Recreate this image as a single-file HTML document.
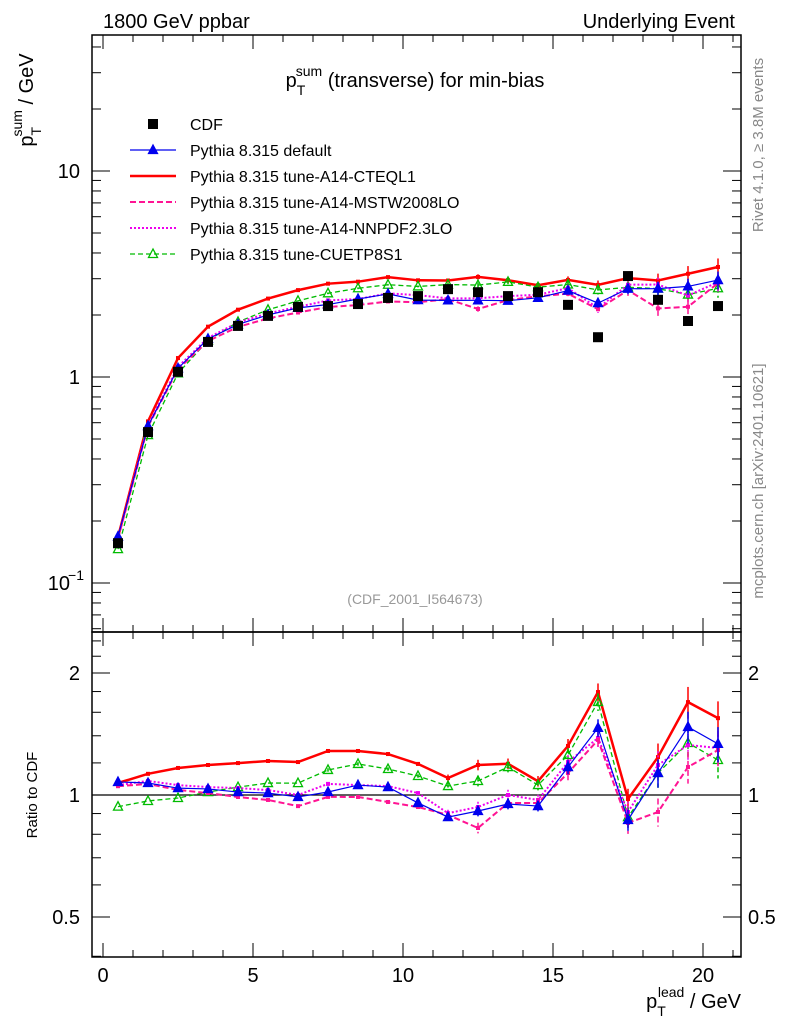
<!DOCTYPE html>
<html><head><meta charset="utf-8"><style>
body{margin:0;background:#fff;}
svg{display:block;font-family:"Liberation Sans",sans-serif;}
</style></head><body>
<svg id="c" width="786" height="1024"></svg>
<script>
const xs=[0.5,1.5,2.5,3.5,4.5,5.5,6.5,7.5,8.5,9.5,10.5,11.5,12.5,13.5,14.5,15.5,16.5,17.5,18.5,19.5,20.5];
const cdf=[0.156,0.54,1.06,1.48,1.77,1.98,2.19,2.21,2.26,2.42,2.47,2.67,2.58,2.47,2.58,2.24,1.56,3.09,2.37,1.87,2.21];
const pyDefault=[.168,.578,1.102,1.532,1.800,2.002,2.166,2.248,2.391,2.531,2.361,2.355,2.356,2.347,2.423,2.625,2.284,2.682,2.685,2.753,2.955];
const pyCTEQ=[0.167,0.609,1.236,1.755,2.122,2.402,2.641,2.838,2.902,3.054,2.947,2.94,3.06,2.95,2.79,2.96,2.80,3.02,2.94,3.17,3.42];
const pyMSTW=[.164,.575,1.091,1.496,1.750,1.925,2.056,2.186,2.235,2.326,2.307,2.384,2.139,2.361,2.466,2.538,2.133,2.636,2.152,2.192,2.853];
const pyNNPDF=[.165,.585,1.121,1.548,1.841,2.037,2.19,2.354,2.391,2.546,2.497,2.408,2.410,2.47,2.508,2.701,2.157,2.806,2.811,2.485,2.886];
const pyCUETP=[.146,.522,1.042,1.505,1.851,2.119,2.343,2.548,2.696,2.805,2.752,2.809,2.794,2.895,2.730,2.811,2.647,2.725,2.685,2.513,2.696];
const relErr=[0,0,0,0,0,0,0,0.01,0.01,0.01,0.01,0.02,0.03,0.03,0.03,0.04,0.05,0.06,0.08,0.09,0.1];
const xTicks=[0,5,10,15,20];

const S=document.getElementById('c');const NS='http://www.w3.org/2000/svg';
function el(t,a,p){const e=document.createElementNS(NS,t);for(const k in a)e.setAttribute(k,a[k]);(p||S).appendChild(e);return e;}
function tx(s,x,y,a,name){const e=el('text',Object.assign({x:x,y:y,'font-size':20},a||{}));e.textContent=s;return e;}
const L=92,R=741,T=35,MB=632,B=957;
const X=v=>103+30*v;
const Y=v=>171-206*(Math.log10(v)-1);
const YR=v=>795-122*Math.log2(v);

const f1=el('rect',{x:L,y:T,width:R-L,height:MB-T,fill:'none',stroke:'#000','stroke-width':1.5});

const f2=el('rect',{x:L,y:MB,width:R-L,height:B-MB,fill:'none',stroke:'#000','stroke-width':1.5});


for(let v=0;v<=21;v++){const x=X(v);const big=v%5==0;const l=big?14:7;
 for(const [y0,d] of [[MB,-1],[T,1],[B,-1],[MB,1]]) el('line',{x1:x,x2:x,y1:y0,y2:y0+d*l,stroke:'#000'});}
xTicks.forEach(v=>tx(String(v),X(v),982,{'text-anchor':'middle'},'x-tick-label'));
for(let e=-2;e<=1;e++)for(let m=1;m<=9;m++){const v=m*Math.pow(10,e);const y=Y(v);if(y<T||y>MB)continue;const l=m==1?18:9;
 el('line',{x1:L,x2:L+l,y1:y,y2:y,stroke:'#000'});el('line',{x1:R,x2:R-l,y1:y,y2:y,stroke:'#000'});}
tx('10',80,178,{'text-anchor':'end'},'y-tick-label');
tx('1',80,384,{'text-anchor':'end'},'y-tick-label');
tx('10',70,590,{'text-anchor':'end'},'y-tick-label');
tx('−1',84,580,{'text-anchor':'end','font-size':14},'y-tick-exponent');
[0.4,0.5,0.6,0.7,0.8,0.9,1,1.2,1.4,1.6,1.8,2,2.2,2.4].forEach(v=>{const y=YR(v);if(y<MB||y>B)return;const big=(v==0.5||v==1||v==2);const l=big?18:9;
 el('line',{x1:L,x2:L+l,y1:y,y2:y,stroke:'#000'});el('line',{x1:R,x2:R-l,y1:y,y2:y,stroke:'#000'});});
[[2,'2'],[1,'1'],[0.5,'0.5']].forEach(([v,s])=>{tx(s,80,YR(v)+7,{'text-anchor':'end'},'ratio-tick-label');tx(s,748,YR(v)+7,{},'ratio-tick-label-right');});
el('line',{x1:L,x2:R,y1:YR(1),y2:YR(1),stroke:'#000','stroke-width':1.2});

tx('1800 GeV ppbar',103,28,{},'energy-label');
tx('Underlying Event',735,28,{'text-anchor':'end'},'process-label');
const tt=tx('',415,87,{'text-anchor':'middle'},'plot-title');
tt.innerHTML='p<tspan dy="8" font-size="14">T</tspan><tspan dy="-19" dx="-8" font-size="14">sum</tspan><tspan dy="11"> (transverse) for min-bias</tspan>';
const yl=tx('',0,0,{transform:'translate(33,100) rotate(-90)','text-anchor':'middle'},'y-axis-title');
yl.innerHTML='p<tspan dy="8" font-size="14">T</tspan><tspan dy="-19" dx="-8" font-size="14">sum</tspan><tspan dy="11"> / GeV</tspan>';
tx('Ratio to CDF',0,0,{transform:'translate(37,795) rotate(-90)','text-anchor':'middle','font-size':15},'ratio-axis-title');
const xl=tx('',741,1008,{'text-anchor':'end'},'x-axis-title');
xl.innerHTML='p<tspan dy="8" font-size="14">T</tspan><tspan dy="-19" dx="-8" font-size="14">lead</tspan><tspan dy="11"> / GeV</tspan>';
tx('(CDF_2001_I564673)',415,604,{'text-anchor':'middle','font-size':14,fill:'#999'},'analysis-id');
tx('Rivet 4.1.0, ≥ 3.8M events',0,0,{transform:'translate(763,145) rotate(-90)','text-anchor':'middle','font-size':15,fill:'#888'},'rivet-version');
tx('mcplots.cern.ch [arXiv:2401.10621]',0,0,{transform:'translate(763,481) rotate(-90)','text-anchor':'middle','font-size':15,fill:'#888'},'mcplots-credit');

const series=[
 {n:'pythia-cteql1',d:pyCTEQ,c:'#ff0000',w:2.5,da:'',m:'sq'},
 {n:'pythia-cuetp8s1',d:pyCUETP,c:'#00bb00',w:1.3,da:'5,3',m:'otri'},
 {n:'pythia-nnpdf',d:pyNNPDF,c:'#ee00ee',w:2,da:'2,2',m:'sq'},
 {n:'pythia-mstw',d:pyMSTW,c:'#ff1493',w:2,da:'6,3',m:'sq'},
 {n:'pythia-default',d:pyDefault,c:'#0000ee',w:1.2,da:'',m:'tri'}];
function mark(m,x,y,c,g){
 if(m=='sq')return el('rect',{x:x-2,y:y-2,width:4,height:4,fill:c},g);
 const p=`${x},${y-5} ${x-4.5},${y+3.5} ${x+4.5},${y+3.5}`;
 return el('polygon',{points:p,fill:m=='tri'?c:'none',stroke:c,'stroke-width':1.3},g);}
function drawSeries(s,yf,vals,name){
 const g=el('g',{});
 el('polyline',{points:xs.map((x,i)=>X(x)+','+yf(vals[i])).join(' '),fill:'none',stroke:s.c,'stroke-width':s.w,'stroke-dasharray':s.da},g);
 xs.forEach((x,i)=>{const e=relErr[i]*vals[i];if(e>0){el('line',{x1:X(x),x2:X(x),y1:yf(vals[i]+e),y2:yf(vals[i]-e),stroke:s.c,'stroke-width':1.5,'stroke-dasharray':s.da},g);}
  mark(s.m,X(x),yf(vals[i]),s.c,g);});
}
series.forEach(s=>{drawSeries(s,Y,s.d,s.n+'-line');drawSeries(s,YR,s.d.map((v,i)=>v/cdf[i]),s.n+'-ratio');});
const gd=el('g',{});
xs.forEach((x,i)=>{el('rect',{x:X(x)-5,y:Y(cdf[i])-5,width:10,height:10,fill:'#000'},gd);});

const leg=[['CDF','#000','','dsq',0],['Pythia 8.315 default','#0000ee','','tri',1.2],['Pythia 8.315 tune-A14-CTEQL1','#ff0000','','',2.5],
 ['Pythia 8.315 tune-A14-MSTW2008LO','#ff1493','6,3','',2],['Pythia 8.315 tune-A14-NNPDF2.3LO','#ee00ee','2,2','',2],['Pythia 8.315 tune-CUETP8S1','#00bb00','5,3','otri',1.3]];
leg.forEach((l,i)=>{const y=124+i*26;const g=el('g',{});
 if(l[3]=='dsq')el('rect',{x:148,y:y-5,width:10,height:10,fill:'#000'},g);
 else{el('line',{x1:130,x2:176,y1:y,y2:y,stroke:l[1],'stroke-width':l[4],'stroke-dasharray':l[2]},g);if(l[3])mark(l[3],153,y,l[1],g);}
 const t=el('text',{x:190,y:y+6,'font-size':16},g);t.textContent=l[0];});
</script>
</body></html>
